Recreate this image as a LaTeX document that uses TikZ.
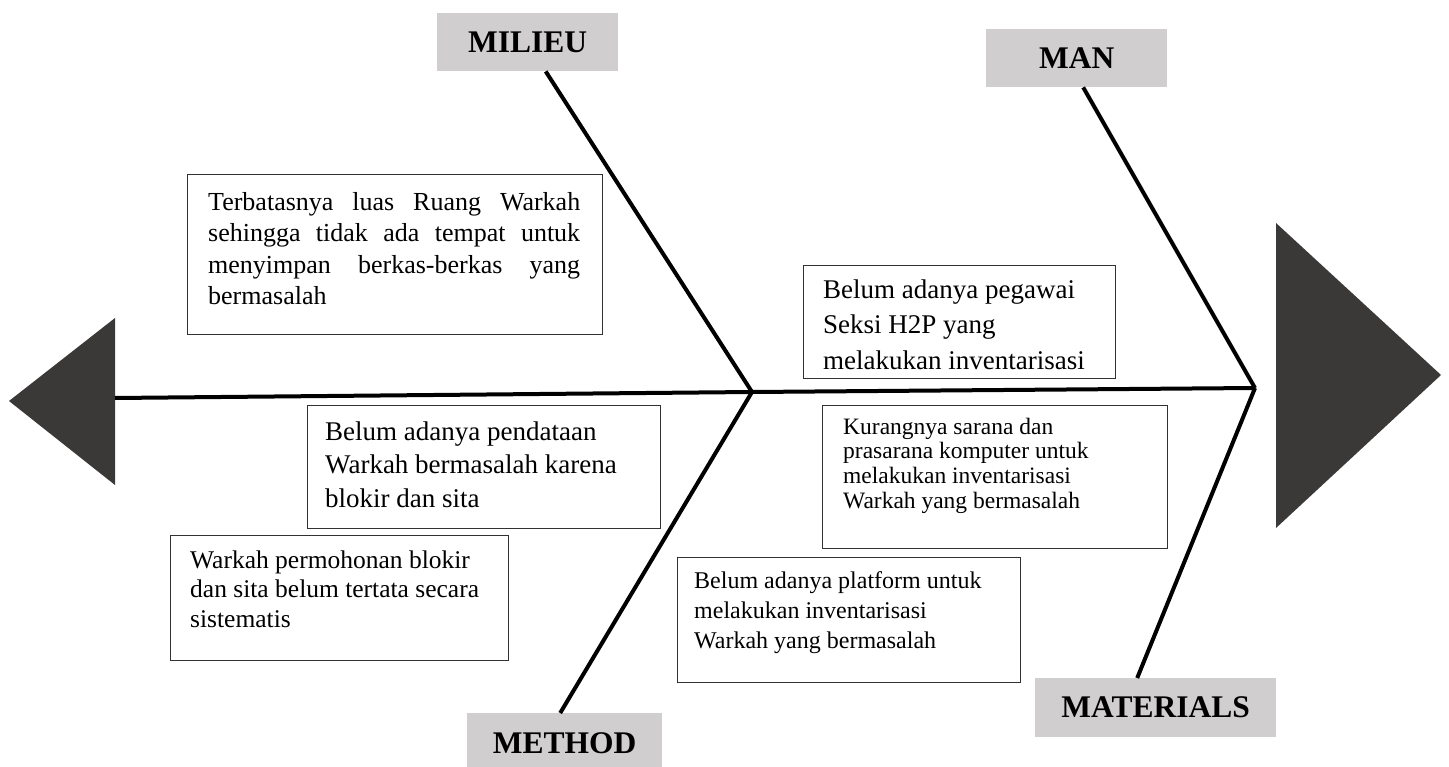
\documentclass[tikz,border=0pt]{standalone}
\usepackage{fontspec}
\setmainfont{Liberation Serif}
\definecolor{lblgray}{RGB}{208,206,206}
\definecolor{trigray}{RGB}{59,56,56}
\definecolor{edgegray}{RGB}{50,50,50}
\begin{document}
\begin{tikzpicture}[x=1pt,y=-1pt,
  lbl/.style={fill=lblgray, inner sep=0, anchor=north west, font=\fontsize{31.5}{36}\selectfont\bfseries},
  cbox/.style={draw=edgegray, line width=1.3pt, inner sep=0, anchor=north west},
  ctext/.style={inner sep=0, anchor=north west, align=left},
  bone/.style={line width=4pt, line join=miter}]
\useasboundingbox (0,0) rectangle (1449,767);
% triangles
\fill[trigray] (115,318) -- (9,401) -- (115,485) -- cycle;
\fill[trigray] (1276,223) -- (1441,375) -- (1276,528) -- cycle;
% label boxes
\node[lbl, minimum width=181pt, minimum height=58pt] (milieu) at (437,13) {MILIEU};
\node[lbl, minimum width=181pt, minimum height=58pt] (man) at (986,29) {MAN};
\node[lbl, minimum width=195pt, minimum height=60pt] (method) at (467,713) {METHOD};
\node[lbl, minimum width=241pt, minimum height=59pt] (materials) at (1035,678) {MATERIALS};
% spine
\coordinate (tail) at (115,398);
\coordinate (j1) at (752,392);
\coordinate (j2) at (1255,388);
\draw[bone] (tail) -- (j1) -- (j2);
\draw[bone] ([xshift=18pt]milieu.south) -- (j1);
\draw[bone] ([xshift=-4.5pt]method.north) -- (j1);
\draw[bone] ([xshift=6.5pt]man.south) -- (j2);
\draw[bone] ([xshift=-18.5pt]materials.north) -- (j2);
% cause boxes
\node[cbox, minimum width=415pt, minimum height=160pt] (b1) at (187,174) {};
\node[ctext, font=\fontsize{26}{31.5}\selectfont] (t1) at (208,188.2)
  {\strut\makebox[372pt][s]{Terbatasnya luas Ruang Warkah}\\
   \makebox[372pt][s]{sehingga tidak ada tempat untuk}\\
   \makebox[372pt][s]{menyimpan berkas-berkas yang}\\
   bermasalah};
\node[cbox, minimum width=312pt, minimum height=113pt] (b2) at (803,265) {};
\node[ctext, font=\fontsize{27}{35.5}\selectfont] (t2) at (823,273)
  {\strut Belum adanya pegawai\\Seksi H2P yang\\melakukan inventarisasi};
\node[cbox, minimum width=353pt, minimum height=123pt] (b3) at (307,405) {};
\node[ctext, font=\fontsize{27}{33.5}\selectfont] (t3) at (325,416.5)
  {\strut Belum adanya pendataan\\Warkah bermasalah karena\\blokir dan sita};
\node[cbox, minimum width=345pt, minimum height=143pt] (b4) at (822,405) {};
\node[ctext, font=\fontsize{23.5}{24.7}\selectfont] (t4) at (843,416.7)
  {\strut Kurangnya sarana dan\\prasarana komputer untuk\\melakukan inventarisasi\\Warkah yang bermasalah};
\node[cbox, minimum width=338pt, minimum height=125pt] (b5) at (170,535) {};
\node[ctext, font=\fontsize{25.5}{29.5}\selectfont] (t5) at (190,547.4)
  {\strut Warkah permohonan blokir\\dan sita belum tertata secara\\sistematis};
\node[cbox, minimum width=343pt, minimum height=125pt] (b6) at (677,557) {};
\node[ctext, font=\fontsize{24}{30}\selectfont] (t6) at (694,567)
  {\strut Belum adanya platform untuk\\melakukan inventarisasi\\Warkah yang bermasalah};
\end{tikzpicture}
\end{document}
